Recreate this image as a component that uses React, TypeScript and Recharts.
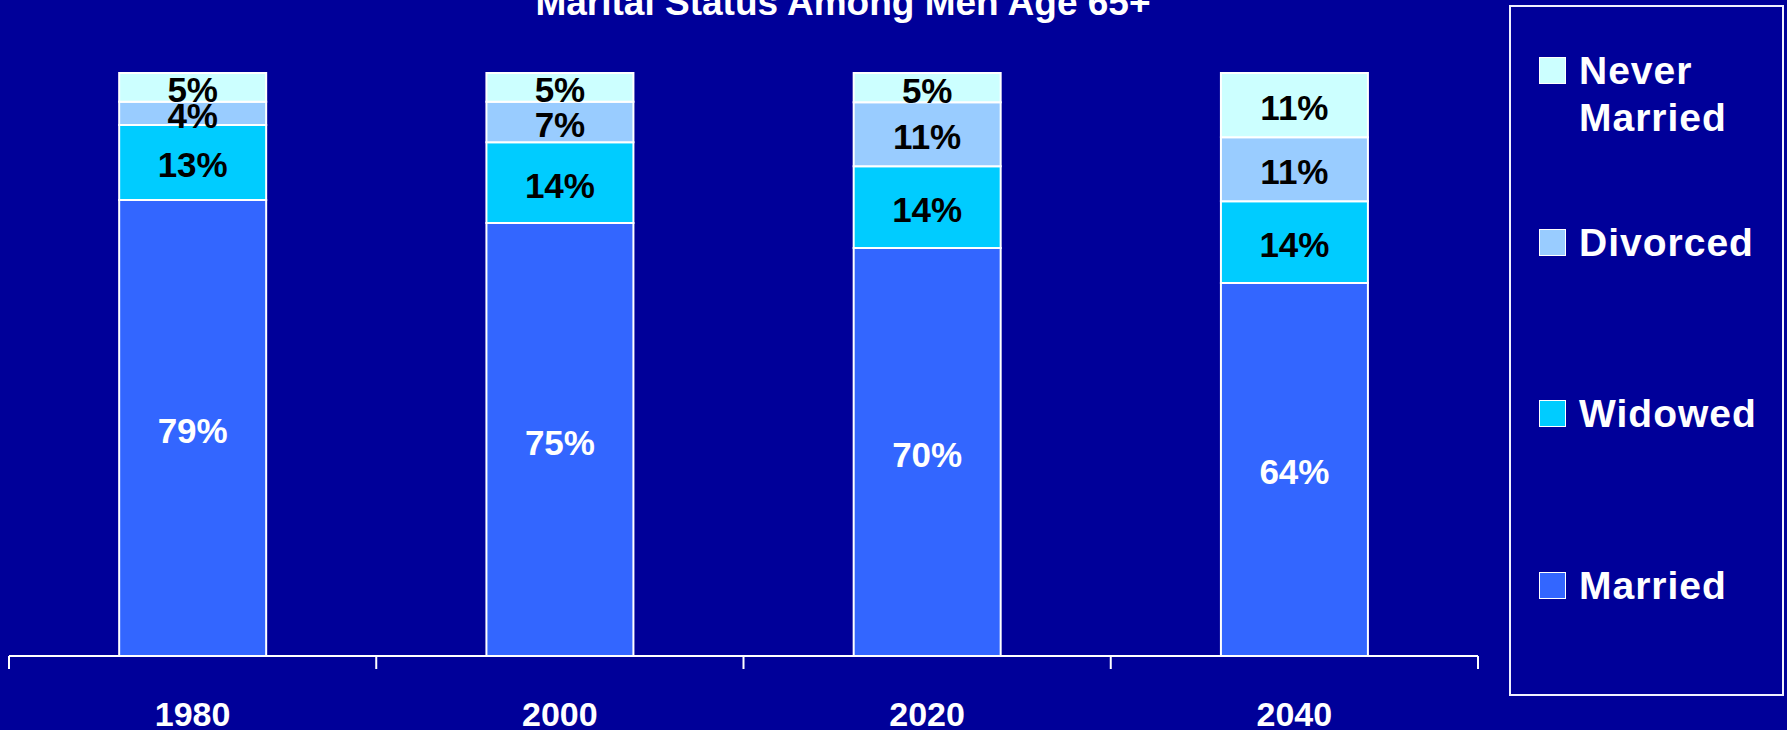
import { BarChart, Bar, XAxis, YAxis, LabelList, Legend } from "recharts";

const years = ["1980", "2000", "2020", "2040"];
const married = [79, 75, 70, 64];
const widowed = [13, 14, 14, 14];
const divorced = [4, 7, 11, 11];
const neverMarried = [5, 5, 5, 11];

const series = [
  { key: "married", name: "Married", color: "#3366FF", text: "#FFFFFF" },
  { key: "widowed", name: "Widowed", color: "#00CCFF", text: "#000000" },
  { key: "divorced", name: "Divorced", color: "#99CCFF", text: "#000000" },
  { key: "neverMarried", name: "Never Married", color: "#CCFFFF", text: "#000000" },
];

const data = years.map((year, i) => ({
  year,
  married: married[i],
  widowed: widowed[i],
  divorced: divorced[i],
  neverMarried: neverMarried[i],
}));

const WIDTH = 1787;
const HEIGHT = 730;
const MARGIN = { top: 73, right: 309, bottom: 14, left: 9 };
const BAND = (WIDTH - MARGIN.left - MARGIN.right) / years.length;
const FONT = "'Liberation Sans', Arial, Helvetica, sans-serif";
const BG = "#000099";

function YearTick(props: any) {
  const { x, y, payload, index } = props;
  const half = BAND / 2;
  return (
    <g>
      <line x1={x - half} x2={x - half} y1={y} y2={y + 13} stroke="#fff" strokeWidth={2} />
      {index === years.length - 1 && (
        <line x1={x + half} x2={x + half} y1={y} y2={y + 13} stroke="#fff" strokeWidth={2} />
      )}
      <text
        x={x}
        y={y + 70}
        textAnchor="middle"
        fill="#fff"
        fontSize={34}
        fontWeight="bold"
        fontFamily={FONT}
      >
        {payload.value}
      </text>
    </g>
  );
}

function makeLabel(color: string) {
  return (p: any) => (
    <text
      x={p.x + p.width / 2}
      y={p.y + p.height / 2 + 15}
      textAnchor="middle"
      fill={color}
      fontSize={35}
      fontWeight="bold"
      fontFamily={FONT}
    >
      {`${p.value}%`}
    </text>
  );
}

function LegendBox() {
  const items = [...series].reverse();
  return (
    <div
      style={{
        boxSizing: "border-box",
        width: 275,
        height: 691,
        border: "2px solid #f0f0ff",
        position: "relative",
        fontFamily: FONT,
      }}
    >
      {items.map((s, i) => (
        <div key={s.key} style={{ position: "absolute", left: 0, top: 40 + i * 171.5, width: 270 }}>
          <div
            style={{
              position: "absolute",
              left: 28,
              top: 10,
              width: 27,
              height: 27,
              boxSizing: "border-box",
              background: s.color,
              border: "1px solid #fff",
            }}
          />
          <div
            style={{
              position: "absolute",
              left: 68,
              top: 0,
              width: 205,
              color: "#fff",
              fontSize: 39,
              fontWeight: "bold",
              lineHeight: "47px",
              letterSpacing: 1,
              textAlign: "left",
            }}
          >
            {s.name.split(" ").length > 1
              ? s.name.split(" ").map((w) => <div key={w}>{w}</div>)
              : s.name}
          </div>
        </div>
      ))}
    </div>
  );
}

export default function App() {
  return (
    <div
      style={{
        position: "absolute",
        left: 0,
        top: 0,
        width: WIDTH,
        height: HEIGHT,
        background: BG,
        overflow: "hidden",
        fontFamily: FONT,
      }}
    >
      <div
        style={{
          position: "absolute",
          left: 443,
          top: -16,
          width: 800,
          textAlign: "center",
          color: "#fff",
          fontSize: 37,
          fontWeight: "bold",
          lineHeight: "37px",
          whiteSpace: "nowrap",
        }}
      >
        Marital Status Among Men Age 65+
      </div>
      <BarChart
        width={WIDTH}
        height={HEIGHT}
        data={data}
        margin={MARGIN}
        stackOffset="expand"
        barCategoryGap="30%"
      >
        <XAxis
          dataKey="year"
          height={60}
          tickSize={0}
          tickMargin={0}
          axisLine={{ stroke: "#fff", strokeWidth: 2 }}
          tickLine={false}
          tick={<YearTick />}
          interval={0}
        />
        <YAxis hide />
        <Legend
          layout="vertical"
          align="center"
          verticalAlign="middle"
          wrapperStyle={{ left: 1509, top: 5, width: 275, height: 691 }}
          content={() => <LegendBox />}
        />
        {series.map((s) => (
          <Bar
            key={s.key}
            dataKey={s.key}
            name={s.name}
            stackId="a"
            fill={s.color}
            stroke="#fff"
            strokeWidth={2}
            isAnimationActive={false}
          >
            <LabelList dataKey={s.key} content={makeLabel(s.text)} />
          </Bar>
        ))}
      </BarChart>
    </div>
  );
}
